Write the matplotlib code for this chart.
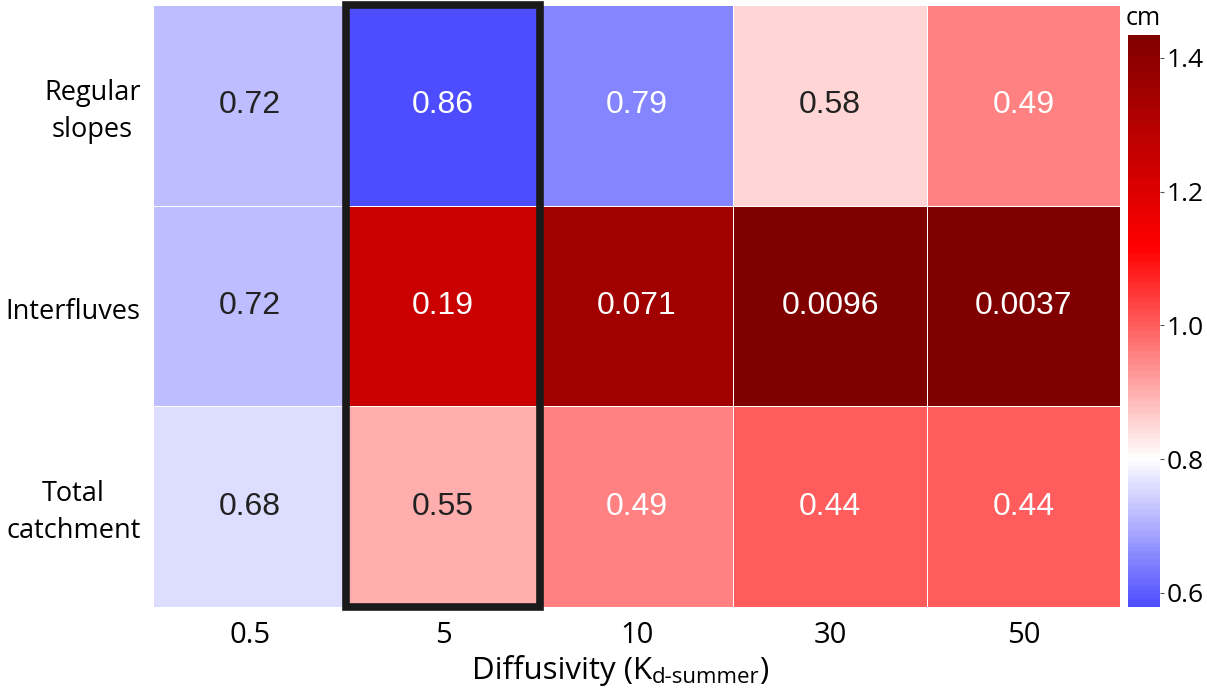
import numpy as np
import pandas as pd
import matplotlib
matplotlib.use("Agg")
import matplotlib.pyplot as plt
import matplotlib.transforms as mtransforms
import seaborn as sns
from matplotlib.patches import Rectangle

# ---- data ----
rows = ["Regular\nslopes", "Interfluves", "Total\ncatchment"]
cols = ["0.5", "5", "10", "30", "50"]
color_regular = [0.72, 0.58, 0.65, 0.85, 0.955]
color_interfluves = [0.72, 1.25, 1.35, 1.434, 1.434]
color_total = [0.757, 0.90, 0.955, 1.0, 1.0]
# annotated values
annot_regular = ["0.72", "0.86", "0.79", "0.58", "0.49"]
annot_interfluves = ["0.72", "0.19", "0.071", "0.0096", "0.0037"]
annot_total = ["0.68", "0.55", "0.49", "0.44", "0.44"]
cbar_ticks = [0.6, 0.8, 1.0, 1.2, 1.4]

data = pd.DataFrame([color_regular, color_interfluves, color_total], index=rows, columns=cols)
annots = np.array([annot_regular, annot_interfluves, annot_total])

fig = plt.figure(figsize=(12.07, 6.89), dpi=100)
ax = fig.add_axes([0.1268, 0.119, 0.8013, 0.8737])
cax = fig.add_axes([0.9346, 0.119, 0.0265, 0.830])

sns.heatmap(data, ax=ax, cbar_ax=cax, cmap="seismic", center=0.8,
            vmin=0.579, vmax=1.434, linewidths=0.5, linecolor="white",
            annot=annots, fmt="", annot_kws={"fontsize": 23, "family": "Liberation Sans"})

# text colours like the reference
dark = [[False, True, True, False, True],
        [False, True, True, True, True],
        [False, False, True, True, True]]
for t in ax.texts:
    x, y = t.get_position()
    i, j = int(y), int(x)
    t.set_color("white" if dark[i][j] else "#222222")

ax.set_xticklabels(cols, rotation=0, family="Open Sans", fontsize=21)
ax.set_yticklabels(rows, rotation=0, ha="right", multialignment="center",
                   linespacing=1.45, family="Open Sans", fontsize=19.5)
ax.tick_params(axis="x", length=0, pad=10)
ax.tick_params(axis="y", length=0, pad=9)
shift = mtransforms.ScaledTranslation(0, -6 / 100, fig.dpi_scale_trans)
for lab in ax.get_yticklabels():
    lab.set_transform(lab.get_transform() + shift)
ax.set_xlabel("")
ax.set_ylabel("")

# highlight column "5"
ax.add_patch(Rectangle((1, 0), 1, 3, fill=False, edgecolor="#1a1a1a", lw=5.5, clip_on=False, zorder=5))

# colorbar
cax.set_yticks(cbar_ticks)
cax.set_yticklabels([f"{v:.1f}" for v in cbar_ticks], family="Open Sans", fontsize=19)
cax.tick_params(axis="y", length=3, width=0.8, pad=2, color="#555555")
fig.text(0.9475, 0.955, "cm", ha="center", va="bottom", family="Open Sans", fontsize=18)

# x label with small subscript-like part
fig.canvas.draw()
r = fig.canvas.get_renderer()
t1 = fig.text(0.5, 0.004, "Diffusivity (K", family="Open Sans", fontsize=22.5, ha="left", va="bottom")
t2 = fig.text(0.5, 0.004, "d-summer", family="Open Sans", fontsize=16, ha="left", va="bottom")
t3 = fig.text(0.5, 0.004, ")", family="Open Sans", fontsize=22.5, ha="left", va="bottom")
w1 = t1.get_window_extent(r).width
w2 = t2.get_window_extent(r).width
w3 = t3.get_window_extent(r).width
total = w1 + w2 + w3
fw = fig.bbox.width
cx = 620.0
x0 = cx - total / 2
t1.set_x(x0 / fw)
t2.set_x((x0 + w1) / fw)
t2.set_y(0.001)
t3.set_x((x0 + w1 + w2) / fw)

fig.savefig("out.png", dpi=100)
